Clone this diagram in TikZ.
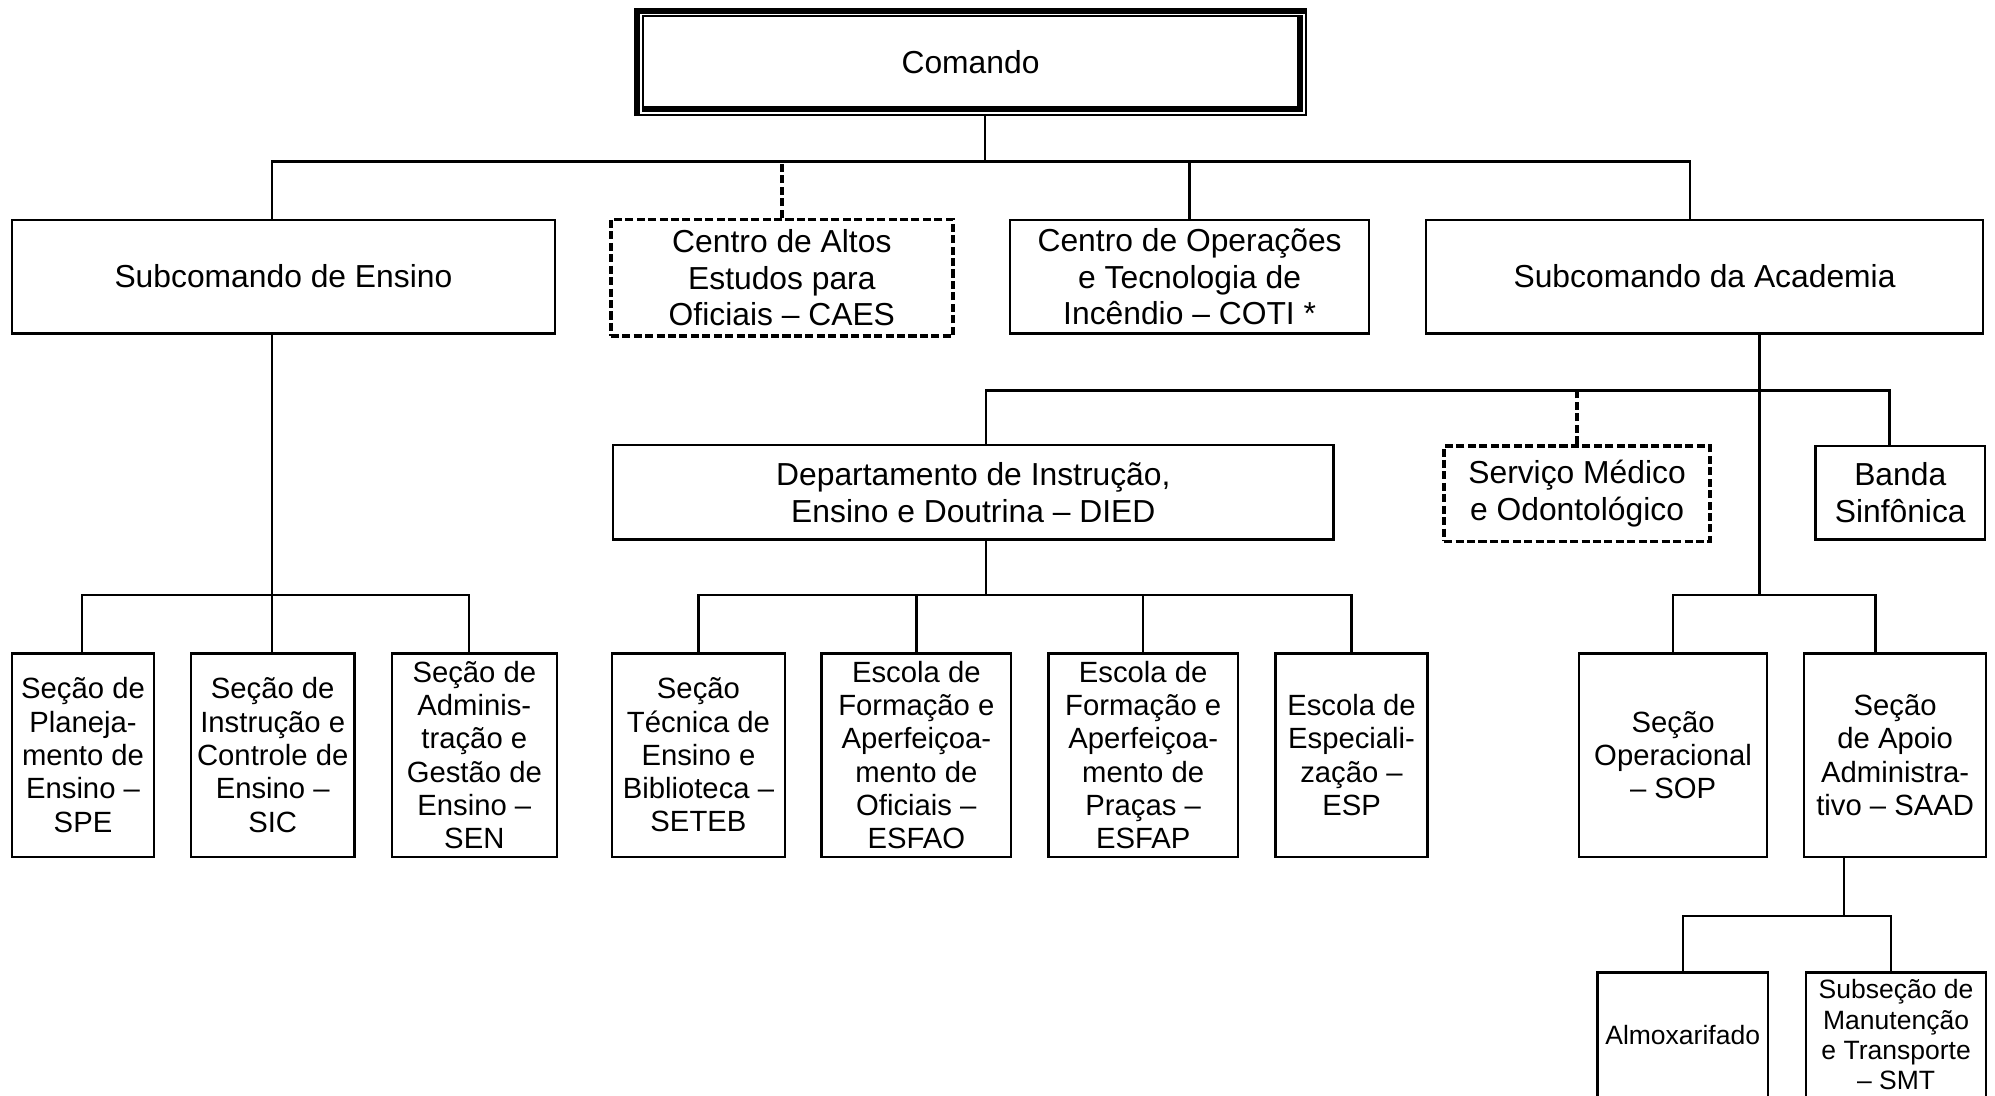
\documentclass[tikz,border=0pt]{standalone}
\usepackage{fontspec}
\setmainfont{Liberation Sans}
\usetikzlibrary{calc}

\begin{document}
\begin{tikzpicture}[x=0.6pt, y=-0.6pt,
    box/.style={draw, line width=1.1pt, align=center, inner sep=0pt, font=\fontsize{15}{17.3}\selectfont},
    cell/.style={box, minimum height=95.9pt, font=\fontsize{13.8}{15.7}\selectfont},
    small/.style={box, minimum height=58.5pt, font=\fontsize{12.5}{14.2}\selectfont},
    dbox/.style={box, line width=1.75pt, dash pattern=on 3.8pt off 1.6pt},
    link/.style={line width=1.1pt},
    dlink/.style={line width=1.75pt, dash pattern=on 3.8pt off 1.6pt}]
            \useasboundingbox (0,0) rectangle (1568,861);
            \clip (0,0) rectangle (1568,861);
            \draw[line width=1pt] (500.7,8.3) rectangle (1026.2,90.4);
            \draw[line width=2.8pt] (500.7,91.2) -- (500.7,8.3) -- (1027.3,8.3);
            \draw[line width=1pt] (505.4,12.6) rectangle (1021.8,85.7);
            \draw[line width=2.8pt] (504.6,85.7) -- (1021.8,85.7) -- (1021.8,11.8);
            \node[inner sep=0pt, minimum width=317.4pt, minimum height=50.9pt, font=\fontsize{15}{17.3}\selectfont] (cmd) at (762.8,48.75) {Comando};
            \node[box, minimum width=256.1pt, minimum height=53.6pt] (subens) at (222.75,217.4) {Subcomando de Ensino};
            \node[dbox, minimum width=161.4pt, minimum height=55pt] (caes) at (614.5,218.3) {Centro de Altos\\Estudos para\\Oficiais – CAES};
            \node[box, minimum width=169.2pt, minimum height=53.4pt] (coti) at (935,217.5) {Centro de Operações\\e Tecnologia de\\Incêndio – COTI *};
            \node[box, minimum width=262.7pt, minimum height=53.6pt] (subacad) at (1339.7,217.4) {Subcomando da Academia};
            \node[box, minimum width=339.6pt, minimum height=44.4pt] (died) at (765,387) {Departamento de Instrução,\\Ensino e Doutrina – DIED};
            \node[dbox, minimum width=125.4pt, minimum height=45pt] (servico) at (1239.5,388) {Serviço Médico\\e Odontológico};
            \node[box, minimum width=79.8pt, minimum height=44.1pt] (banda) at (1493.5,387.2) {Banda\\Sinfônica};
            \node[cell, minimum width=67.1pt] (spe) at (65.25,593.4) {Seção de\\Planeja-\\mento de\\Ensino –\\SPE};
            \node[cell, minimum width=77.2pt] (sic) at (214.35,593.4) {Seção de\\Instrução e\\Controle de\\Ensino –\\SIC};
            \node[cell, minimum width=77.9pt] (sen) at (372.8,593.4) {Seção de\\Adminis-\\tração e\\Gestão de\\Ensino –\\SEN};
            \node[cell, minimum width=81.8pt] (seteb) at (548.95,593.4) {Seção\\Técnica de\\Ensino e\\Biblioteca –\\SETEB};
            \node[cell, minimum width=89.5pt] (esfao) at (720.2,593.4) {Escola de\\Formação e\\Aperfeiçoa-\\mento de\\Oficiais –\\ESFAO};
            \node[cell, minimum width=89.3pt] (esfap) at (898.5,593.4) {Escola de\\Formação e\\Aperfeiçoa-\\mento de\\Praças –\\ESFAP};
            \node[cell, minimum width=71.7pt] (esp) at (1062.25,593.4) {Escola de\\Especiali-\\zação –\\ESP};
            \node[cell, minimum width=88.8pt] (sop) at (1315,593.4) {Seção\\Operacional\\– SOP};
            \node[cell, minimum width=85.8pt] (saad) at (1489.5,593.4) {Seção\\de Apoio\\Administra-\\tivo – SAAD};
            \node[small, minimum width=80.2pt] (almox) at (1322.5,813.2) {Almoxarifado};
            \node[small, minimum width=84.9pt] (subsec) at (1490.25,813.2) {Subseção de\\Manutenção\\e Transporte\\– SMT};
            \coordinate (j1) at (774.3,127);
            \coordinate (j1w) at (213.6,127);
            \coordinate (j1e) at (1328,127);
            \coordinate (j2) at (213.6,467.7);
            \coordinate (j2w) at (64.3,467.7);
            \coordinate (j2e) at (368.8,467.7);
            \coordinate (j3) at (1383,307);
            \coordinate (j3w) at (775,307);
            \coordinate (j3e) at (1485,307);
            \coordinate (j4) at (775,467.7);
            \coordinate (j5) at (1383,467.7);
            \coordinate (j5e) at (1474,467.7);
            \coordinate (j6) at (1449.4,720);
            \coordinate (j6e) at (1486,720);
            \draw[link] (cmd.south -| j1) -- (j1);
            \draw[link] (subens.north -| j1w) |- (j1e) -- (subacad.north -| j1e);
            \draw[dlink] (caes.north) -- (caes.north |- j1);
            \draw[link] (coti.north) -- (coti.north |- j1);
            \draw[link] (subens.south -| j2) -- (sic.north -| j2);
            \draw[link] (spe.north -| j2w) |- (j2e) -- (sen.north -| j2e);
            \draw[link] (subacad.south -| j3) -- (j5);
            \draw[link] (died.north -| j3w) |- (j3e) -- (banda.north -| j3e);
            \draw[dlink] (servico.north) -- (servico.north |- j3);
            \draw[link] (died.south -| j4) -- (j4);
            \draw[link] (seteb.north) |- (esp.north |- j4) -- (esp.north);
            \draw[link] (esfao.north) -- (esfao.north |- j4);
            \draw[link] (esfap.north) -- (esfap.north |- j4);
            \draw[link] (sop.north) |- (j5e) -- (saad.north -| j5e);
            \draw[link] (saad.south -| j6) -- (j6);
            \draw[link] (almox.north) |- (j6e) -- (subsec.north -| j6e);
        \end{tikzpicture}
\end{document}
